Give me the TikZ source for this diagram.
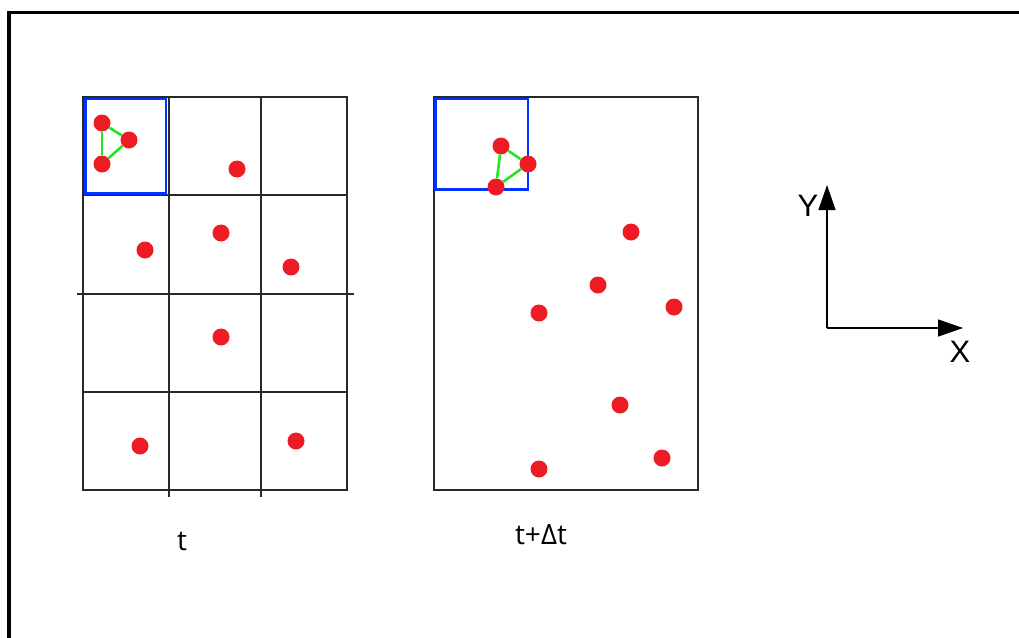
\documentclass[tikz,border=0pt]{standalone}
\usepackage{fontspec}
\setmainfont{Liberation Sans}
\newfontfamily\timefont{Open Sans}
\usetikzlibrary{arrows.meta}
\definecolor{dotred}{RGB}{237, 28, 36}
\definecolor{bondgreen}{RGB}{34, 230, 34}
\definecolor{cellblue}{RGB}{0, 51, 255}
\definecolor{gridgray}{RGB}{40, 40, 40}
\tikzset{
  dot/.style={circle, fill=dotred, minimum size=17pt, inner sep=0pt},
  bond/.style={bondgreen, line width=2.6pt},
  cell/.style={cellblue, line width=2.7pt},
  gridline/.style={gridgray, line width=1.2pt},
  axis/.style={line width=1.3pt, -{Triangle[length=25pt, width=17pt]}},
  axislabel/.style={font=\fontsize{31}{34}\selectfont, inner sep=0pt},
  timelabel/.style={font=\timefont\fontsize{28}{32}\selectfont, inner sep=0pt},
}

\begin{document}
\begin{tikzpicture}[x=1pt, y=-1pt]

  \useasboundingbox (0, 0) rectangle (1019, 637);

  % frame, cut off at right and bottom
  \draw[line width=3.5pt] (9, 645) -- (9, 12.5) -- (1025, 12.5);

  % grid at time t
  \draw[gridline] (83, 97) rectangle (347, 490);
  \foreach \x in {169, 261}
    \draw[gridline] (\x, 97) -- (\x, 497);
  \foreach \y in {195, 392}
    \draw[gridline] (83, \y) -- (347, \y);
  \draw[gridline] (77, 294) -- (354, 294);
  \draw[cell] (85.3, 99) rectangle (166, 193.7);

  % box at time t + dt
  \draw[gridline] (434, 97) rectangle (698, 490);
  \draw[cell] (435.3, 99) rectangle (528, 189.5);

  % particles at t
  \node[dot] (a1) at (102, 123) {};
  \node[dot] (a2) at (129, 140) {};
  \node[dot] (a3) at (102, 164) {};
  \node[dot] (a4) at (237, 169) {};
  \node[dot] (a5) at (145, 250) {};
  \node[dot] (a6) at (221, 233) {};
  \node[dot] (a7) at (291, 267) {};
  \node[dot] (a8) at (221, 337) {};
  \node[dot] (a9) at (140, 446) {};
  \node[dot] (a10) at (296, 441) {};

  \draw[bond] (a1) -- (a2);
  \draw[bond] (a2) -- (a3);
  \draw[bond] (a3) -- (a1);

  % particles at t + dt
  \node[dot] (b1) at (501, 146) {};
  \node[dot] (b2) at (528, 164) {};
  \node[dot] (b3) at (496, 187) {};
  \node[dot] (b4) at (631, 232) {};
  \node[dot] (b5) at (598, 285) {};
  \node[dot] (b6) at (539, 313) {};
  \node[dot] (b7) at (674, 307) {};
  \node[dot] (b8) at (620, 405) {};
  \node[dot] (b9) at (662, 458) {};
  \node[dot] (b10) at (539, 469) {};

  \draw[bond] (b1) -- (b2);
  \draw[bond] (b2) -- (b3);
  \draw[bond] (b3) -- (b1);

  \node[timelabel] (tnow) at (182, 541) {t};
  \node[timelabel] (tnext) at (541, 535) {t+Δt};

  % axes
  \coordinate (origin) at (827, 328);
  \coordinate (yend) at (827, 185);
  \coordinate (xend) at (963, 328);
  \draw[axis] (origin) -- (yend);
  \draw[axis] (origin) -- (xend);
  \node[axislabel] (ylabel) at (808, 206) {Y};
  \node[axislabel] (xlabel) at (960, 352) {X};

\end{tikzpicture}
\end{document}
